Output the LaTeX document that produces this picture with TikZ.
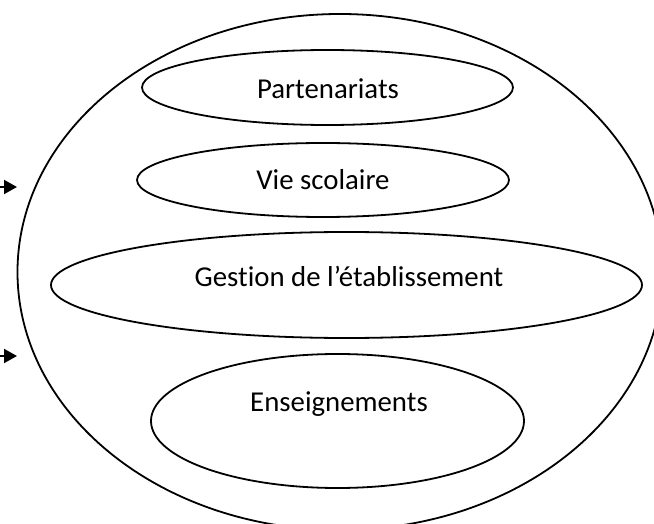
\documentclass[tikz,border=0pt]{standalone}
\usepackage{fontspec}
\setmainfont[Ligatures={NoCommon}]{Carlito}
\usetikzlibrary{shapes.geometric,arrows.meta}
\tikzset{
  oval/.style={ellipse, draw=black, line width=1.8pt, inner sep=0pt, outer sep=0pt},
  lbl/.style={anchor=base, inner sep=0pt, font=\fontsize{28.8}{34}\selectfont},
  pointer/.style={line width=2pt, -{Triangle[length=13pt,width=14pt]}}
}
\begin{document}
\begin{tikzpicture}[x=1pt,y=-1pt]
\useasboundingbox (0,0) rectangle (654,524);
\clip (0,0) rectangle (654,524);
\node[oval, minimum width=645pt, minimum height=516pt] (outer) at (340,272) {};
\node[oval, minimum width=371pt, minimum height=75pt] (part) at (327.5,87.5) {};
\node[oval, minimum width=372pt, minimum height=74pt] (vie) at (323,180) {};
\node[oval, minimum width=591pt, minimum height=106pt] (gest) at (346.5,285) {};
\node[oval, minimum width=373pt, minimum height=134pt] (ens) at (337.5,421) {};
\node[lbl] (tpart) at (328,99) {Partenariats};
\node[lbl] (tvie) at (323,190) {Vie scolaire};
\node[lbl] (tgest) at (349,286) {Gestion de l’établissement};
\node[lbl] (tens) at (339,411) {Enseignements};
\coordinate (a1s) at (0,187);
\coordinate (a1e) at (17,187);
\coordinate (a2s) at (0,356);
\coordinate (a2e) at (17,356);
\draw[pointer] (a1s) -- (a1e);
\draw[pointer] (a2s) -- (a2e);
\end{tikzpicture}
\end{document}
